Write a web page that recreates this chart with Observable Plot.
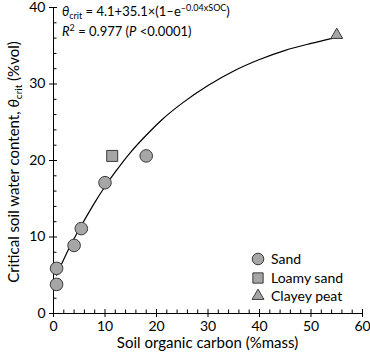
<!DOCTYPE html>
<html><head><meta charset="utf-8">
<script src="https://cdn.jsdelivr.net/npm/d3@7"></script>
<script src="https://cdn.jsdelivr.net/npm/@observablehq/plot@0.6"></script>
<style>body{margin:0;background:#fff} svg{display:block}</style>
</head><body><div id="chart"></div>
<script>
// ---- data ----
const sandSOC   = [0.6, 0.6, 4.0, 5.4, 10.0, 18.0];
const sandTheta = [3.8, 5.9, 8.9, 11.1, 17.1, 20.6];
const loamySOC   = [11.4];
const loamyTheta = [20.6];
const peatSOC   = [55.0];
const peatTheta = [36.4];
// fitted curve
const fitSOC   = [0.6, 2, 4, 6, 8, 10, 12, 15, 18, 21, 25, 30, 35, 40, 45, 50, 55];
const fitTheta = [5.0, 7.1, 9.8, 12.2, 14.5, 16.6, 18.5, 21.1, 23.3, 25.3, 27.5, 29.8, 31.7, 33.2, 34.4, 35.3, 36.1];
const xTicks = [0, 10, 20, 30, 40, 50, 60];
const yTicks = [0, 10, 20, 30, 40];
const xMinor = [2,4,6,8,12,14,16,18,22,24,26,28,32,34,36,38,42,44,46,48,52,54,56,58];
const yMinor = [2,4,6,8,12,14,16,18,22,24,26,28,32,34,36,38];
const seriesNames = ["Sand", "Loamy sand", "Clayey peat"];

const rows = (xs, ys) => xs.map((x, i) => ({soc: x, theta: ys[i]}));
const sand = rows(sandSOC, sandTheta);
const loamy = rows(loamySOC, loamyTheta);
const peat = rows(peatSOC, peatTheta);
const fit = rows(fitSOC, fitTheta);

const W = 370, H = 359, mL = 53, mR = 8, mT = 7, mB = 46;
const frameW = W - mL - mR, frameH = H - mT - mB;
const FILL = "#a6a6a6", STROKE = "#3a3a3a";
const FONT = "Lato, 'Open Sans', sans-serif";

const plot = Plot.plot({
  width: W, height: H,
  marginLeft: mL, marginRight: mR, marginTop: mT, marginBottom: mB,
  style: {fontFamily: FONT, fontSize: "14px", color: "#000", background: "#fff", overflow: "visible"},
  x: {domain: [0, 60]},
  y: {domain: [0, 40]},
  marks: [
    Plot.axisX({ticks: xTicks, tickSize: 4, tickPadding: 4, label: null, tickFormat: d => String(d), fontSize: 14}),
    Plot.axisY({ticks: yTicks, tickSize: 4, tickPadding: 4, label: null, tickFormat: d => String(d), fontSize: 14}),
    Plot.tickX(xMinor, {x: d => d, insetTop: frameH - 3.5, stroke: "#000"}),
    Plot.tickX(xTicks, {x: d => d, insetTop: frameH - 4, stroke: "#000"}),
    Plot.tickY(yMinor, {y: d => d, insetRight: frameW - 3.5, stroke: "#000"}),
    Plot.tickY(yTicks, {y: d => d, insetRight: frameW - 4, stroke: "#000"}),
    Plot.ruleY([0], {stroke: "#000"}),
    Plot.ruleX([0], {stroke: "#000"}),
    Plot.line(fit, {x: "soc", y: "theta", stroke: "#000", strokeWidth: 1.2, curve: "monotone-x"}),
    Plot.dot(sand, {x: "soc", y: "theta", symbol: "circle", r: 6.3, fill: FILL, stroke: STROKE, strokeWidth: 1}),
    Plot.dot(loamy, {x: "soc", y: "theta", symbol: "square", r: 6.2, fill: FILL, stroke: STROKE, strokeWidth: 1}),
    Plot.dot(peat, {x: "soc", y: "theta", symbol: "triangle", r: 4.4, fill: FILL, stroke: STROKE, strokeWidth: 1})
  ]
});
document.getElementById("chart").appendChild(plot);

const svg = d3.select(plot);
const addText = (x, y, size) => svg.append("text")
  .attr("x", x).attr("y", y).attr("font-size", size).attr("font-family", FONT)
  .attr("text-anchor", "start").attr("fill", "#000");

// y axis label
const yl = svg.append("text")
  .attr("transform", `translate(19,${mT + frameH / 2 + 2}) rotate(-90)`)
  .attr("text-anchor", "middle").attr("font-size", 15).attr("font-family", FONT).attr("fill", "#000");
yl.append("tspan").text("Critical soil water content, ");
yl.append("tspan").attr("font-style", "italic").text("θ");
yl.append("tspan").attr("font-size", 10).attr("dy", 3).text("crit");
yl.append("tspan").attr("dy", -3).text(" (%vol)");

// x axis label
addText(mL + frameW / 2, 348, 15).attr("text-anchor", "middle").text("Soil organic carbon (%mass)");

// equation annotation
const a1 = addText(62, 16, 13);
a1.append("tspan").attr("font-style", "italic").text("θ");
a1.append("tspan").attr("font-size", 9).attr("dy", 3).text("crit");
a1.append("tspan").attr("dy", -3).text(" = 4.1+35.1×(1–e");
a1.append("tspan").attr("font-size", 9).attr("dy", -5).text("–0.04xSOC");
a1.append("tspan").attr("dy", 5).text(")");
const a2 = addText(62, 36, 13);
a2.append("tspan").attr("font-style", "italic").text("R");
a2.append("tspan").attr("font-size", 9).attr("dy", -5).text("2");
a2.append("tspan").attr("dy", 5).text(" = 0.977 (");
a2.append("tspan").attr("font-style", "italic").text("P");
a2.append("tspan").text(" <0.0001)");

// legend
const legSymbols = [d3.symbolCircle, d3.symbolSquare, d3.symbolTriangle];
const legR = [5.8, 5.8, 4.4];
const legY = [259, 278, 296];
const leg = svg.append("g");
seriesNames.forEach((name, i) => {
  leg.append("path")
    .attr("transform", `translate(258,${legY[i]})`)
    .attr("d", d3.symbol(legSymbols[i], legR[i] * legR[i] * Math.PI)())
    .attr("fill", FILL).attr("stroke", STROKE).attr("stroke-width", 1);
  addText(271, legY[i], 14).attr("dy", "0.35em").text(name);
});
</script>
</body></html>
